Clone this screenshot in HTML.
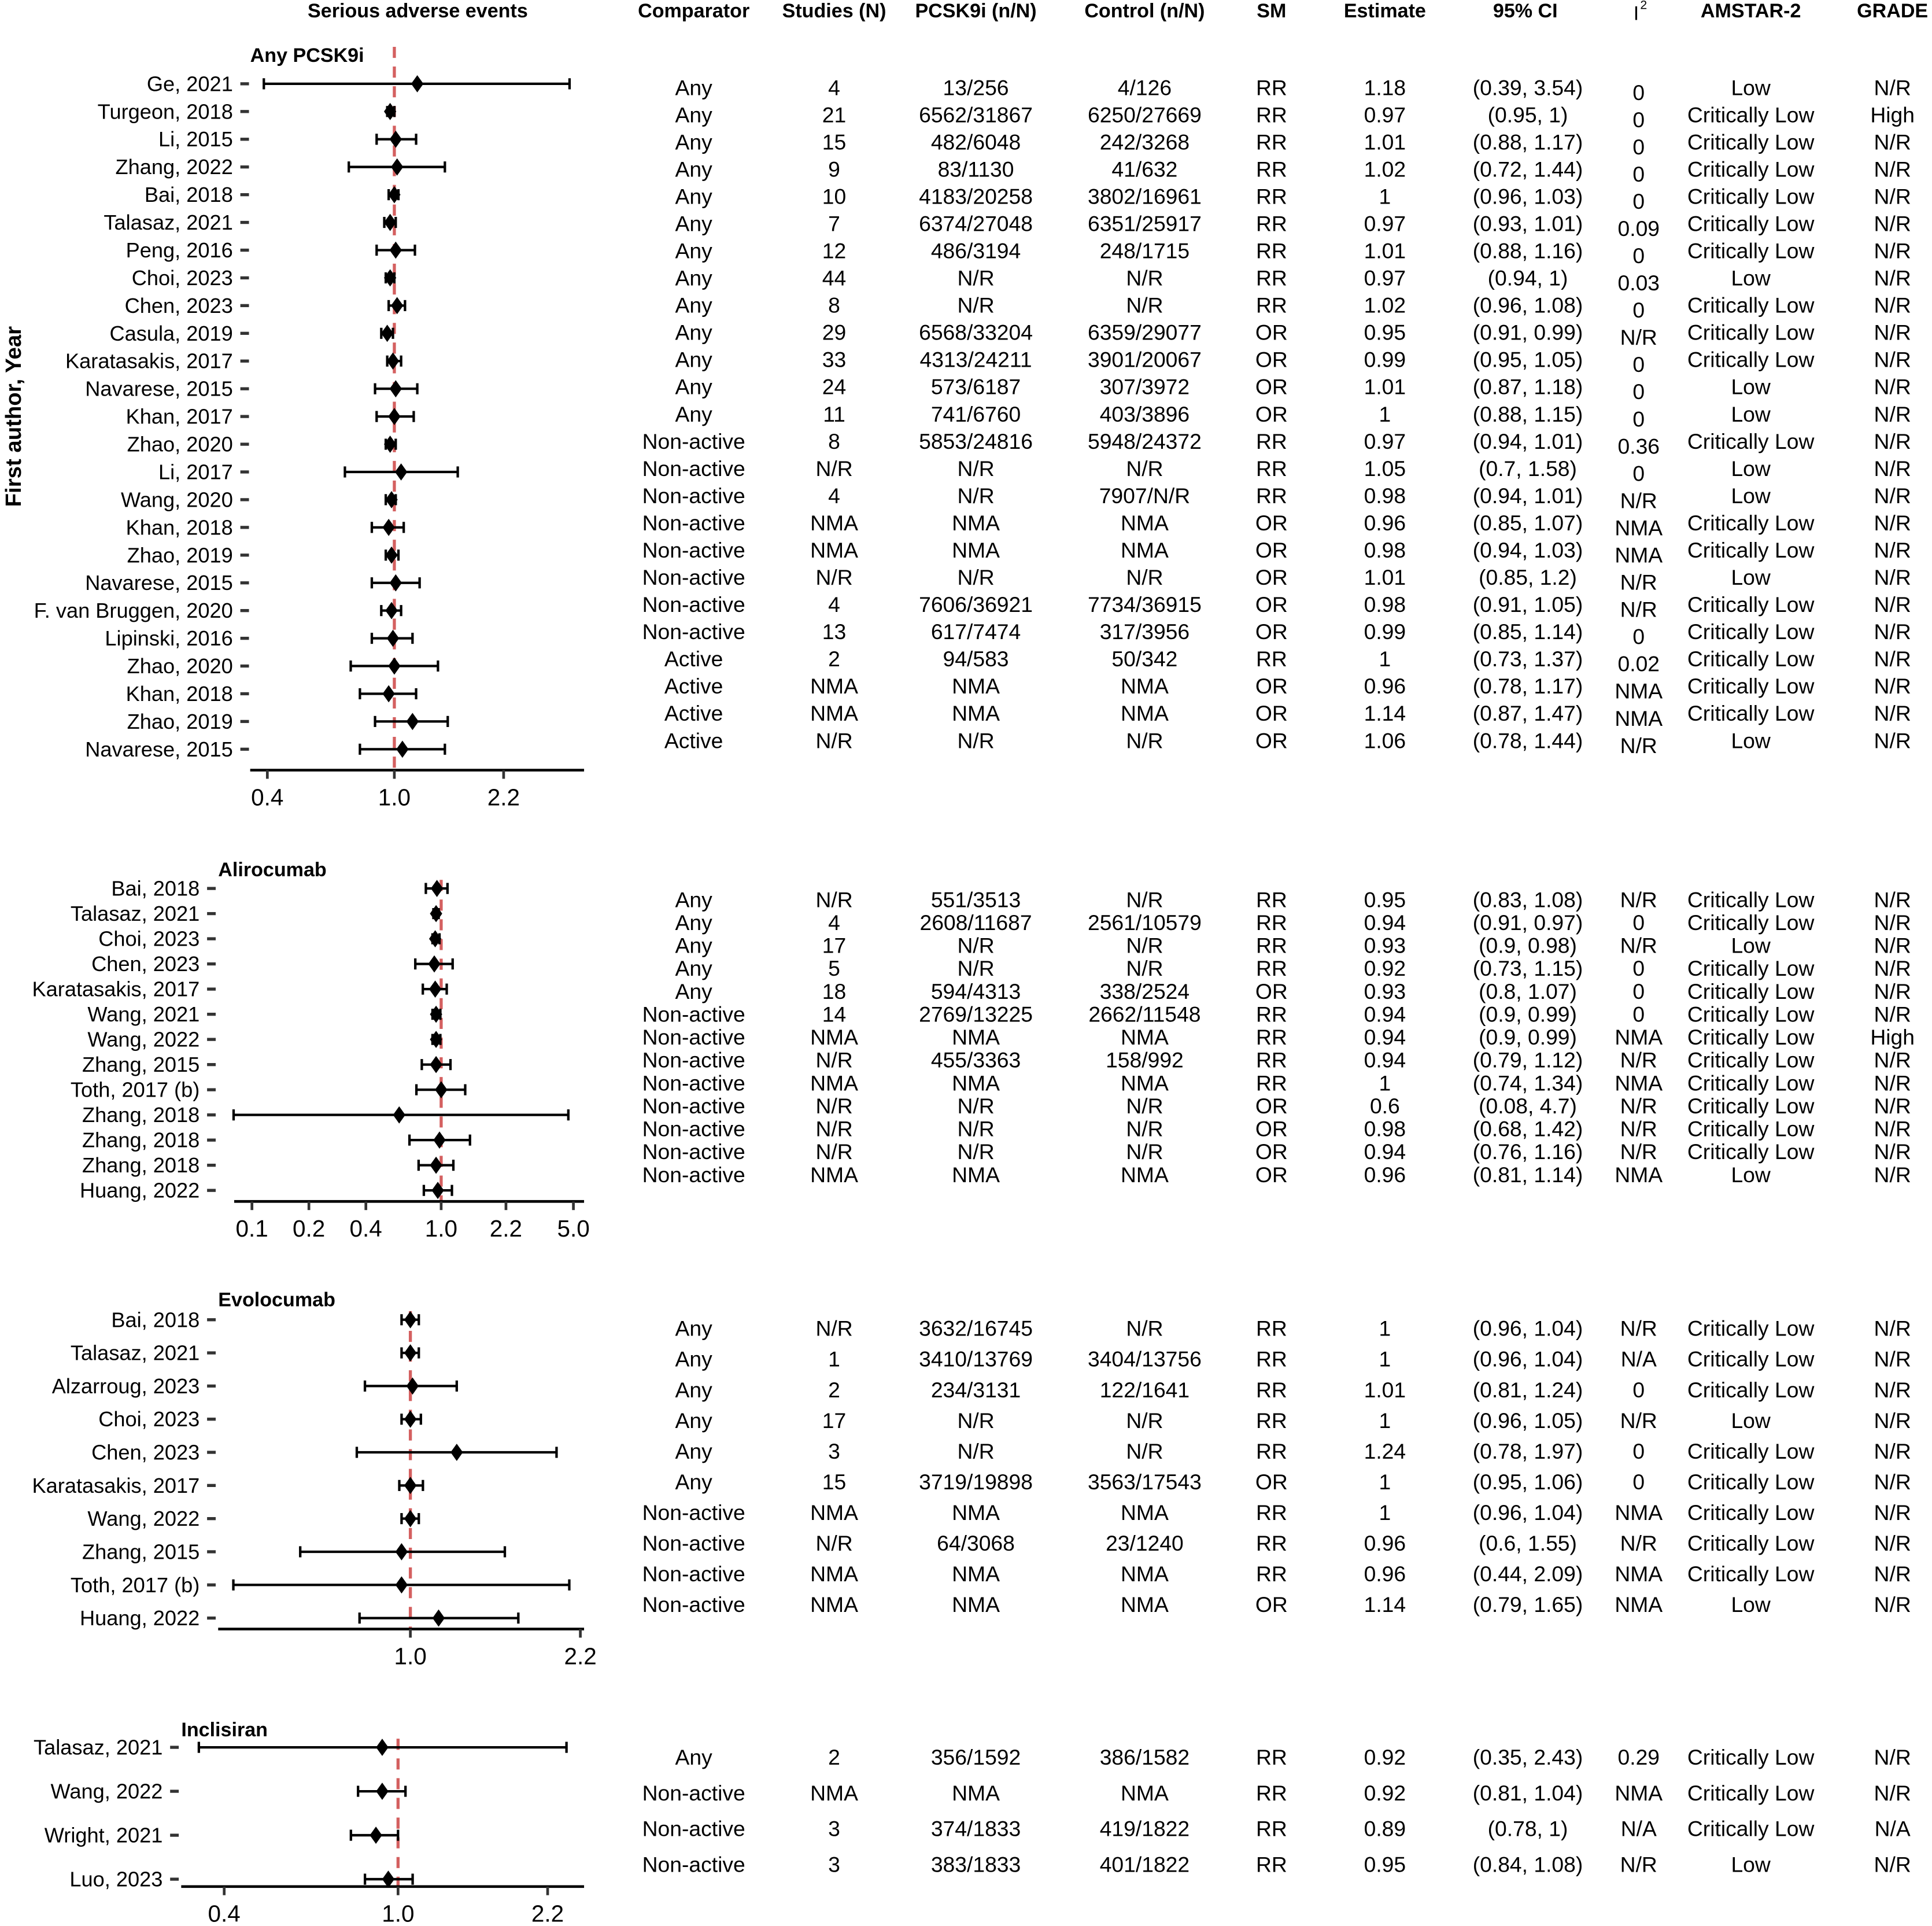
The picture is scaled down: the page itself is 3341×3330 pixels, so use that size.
<!DOCTYPE html>
<html><head><meta charset="utf-8"><style>
html,body{margin:0;padding:0;background:#fff;}
svg{display:block;}
text{font-family:"Liberation Sans",Arial,sans-serif;}
</style></head><body>
<svg id="chart" xmlns="http://www.w3.org/2000/svg" width="3341" height="3330" viewBox="0 0 1568 1563">
<rect width="1568" height="1563" fill="#fff"/>
<g id="g"></g>
</svg>
<script>
// ---- data ----
const p1Labels=["Ge, 2021","Turgeon, 2018","Li, 2015","Zhang, 2022","Bai, 2018","Talasaz, 2021","Peng, 2016","Choi, 2023","Chen, 2023","Casula, 2019","Karatasakis, 2017","Navarese, 2015","Khan, 2017","Zhao, 2020","Li, 2017","Wang, 2020","Khan, 2018","Zhao, 2019","Navarese, 2015","F. van Bruggen, 2020","Lipinski, 2016","Zhao, 2020","Khan, 2018","Zhao, 2019","Navarese, 2015"];
const p1Est=[1.18,0.97,1.01,1.02,1,0.97,1.01,0.97,1.02,0.95,0.99,1.01,1,0.97,1.05,0.98,0.96,0.98,1.01,0.98,0.99,1,0.96,1.14,1.06];
const p1Lo=[0.39,0.95,0.88,0.72,0.96,0.93,0.88,0.94,0.96,0.91,0.95,0.87,0.88,0.94,0.7,0.94,0.85,0.94,0.85,0.91,0.85,0.73,0.78,0.87,0.78];
const p1Hi=[3.54,1,1.17,1.44,1.03,1.01,1.16,1,1.08,0.99,1.05,1.18,1.15,1.01,1.58,1.01,1.07,1.03,1.2,1.05,1.14,1.37,1.17,1.47,1.44];
const p1Comp=["Any","Any","Any","Any","Any","Any","Any","Any","Any","Any","Any","Any","Any","Non-active","Non-active","Non-active","Non-active","Non-active","Non-active","Non-active","Non-active","Active","Active","Active","Active"];
const p1N=["4","21","15","9","10","7","12","44","8","29","33","24","11","8","N/R","4","NMA","NMA","N/R","4","13","2","NMA","NMA","N/R"];
const p1P=["13/256","6562/31867","482/6048","83/1130","4183/20258","6374/27048","486/3194","N/R","N/R","6568/33204","4313/24211","573/6187","741/6760","5853/24816","N/R","N/R","NMA","NMA","N/R","7606/36921","617/7474","94/583","NMA","NMA","N/R"];
const p1C=["4/126","6250/27669","242/3268","41/632","3802/16961","6351/25917","248/1715","N/R","N/R","6359/29077","3901/20067","307/3972","403/3896","5948/24372","N/R","7907/N/R","NMA","NMA","N/R","7734/36915","317/3956","50/342","NMA","NMA","N/R"];
const p1SM=["RR","RR","RR","RR","RR","RR","RR","RR","RR","OR","OR","OR","OR","RR","RR","RR","OR","OR","OR","OR","OR","RR","OR","OR","OR"];
const p1EstTxt=["1.18","0.97","1.01","1.02","1","0.97","1.01","0.97","1.02","0.95","0.99","1.01","1","0.97","1.05","0.98","0.96","0.98","1.01","0.98","0.99","1","0.96","1.14","1.06"];
const p1CI=["(0.39, 3.54)","(0.95, 1)","(0.88, 1.17)","(0.72, 1.44)","(0.96, 1.03)","(0.93, 1.01)","(0.88, 1.16)","(0.94, 1)","(0.96, 1.08)","(0.91, 0.99)","(0.95, 1.05)","(0.87, 1.18)","(0.88, 1.15)","(0.94, 1.01)","(0.7, 1.58)","(0.94, 1.01)","(0.85, 1.07)","(0.94, 1.03)","(0.85, 1.2)","(0.91, 1.05)","(0.85, 1.14)","(0.73, 1.37)","(0.78, 1.17)","(0.87, 1.47)","(0.78, 1.44)"];
const p1I2=["0","0","0","0","0","0.09","0","0.03","0","N/R","0","0","0","0.36","0","N/R","NMA","NMA","N/R","N/R","0","0.02","NMA","NMA","N/R"];
const p1Am=["Low","Critically Low","Critically Low","Critically Low","Critically Low","Critically Low","Critically Low","Low","Critically Low","Critically Low","Critically Low","Low","Low","Critically Low","Low","Low","Critically Low","Critically Low","Low","Critically Low","Critically Low","Critically Low","Critically Low","Critically Low","Low"];
const p1Gr=["N/R","High","N/R","N/R","N/R","N/R","N/R","N/R","N/R","N/R","N/R","N/R","N/R","N/R","N/R","N/R","N/R","N/R","N/R","N/R","N/R","N/R","N/R","N/R","N/R"];

const p2Labels=["Bai, 2018","Talasaz, 2021","Choi, 2023","Chen, 2023","Karatasakis, 2017","Wang, 2021","Wang, 2022","Zhang, 2015","Toth, 2017 (b)","Zhang, 2018","Zhang, 2018","Zhang, 2018","Huang, 2022"];
const p2Est=[0.95,0.94,0.93,0.92,0.93,0.94,0.94,0.94,1,0.6,0.98,0.94,0.96];
const p2Lo=[0.83,0.91,0.9,0.73,0.8,0.9,0.9,0.79,0.74,0.08,0.68,0.76,0.81];
const p2Hi=[1.08,0.97,0.98,1.15,1.07,0.99,0.99,1.12,1.34,4.7,1.42,1.16,1.14];
const p2Comp=["Any","Any","Any","Any","Any","Non-active","Non-active","Non-active","Non-active","Non-active","Non-active","Non-active","Non-active"];
const p2N=["N/R","4","17","5","18","14","NMA","N/R","NMA","N/R","N/R","N/R","NMA"];
const p2P=["551/3513","2608/11687","N/R","N/R","594/4313","2769/13225","NMA","455/3363","NMA","N/R","N/R","N/R","NMA"];
const p2C=["N/R","2561/10579","N/R","N/R","338/2524","2662/11548","NMA","158/992","NMA","N/R","N/R","N/R","NMA"];
const p2SM=["RR","RR","RR","RR","OR","RR","RR","RR","RR","OR","OR","OR","OR"];
const p2EstTxt=["0.95","0.94","0.93","0.92","0.93","0.94","0.94","0.94","1","0.6","0.98","0.94","0.96"];
const p2CI=["(0.83, 1.08)","(0.91, 0.97)","(0.9, 0.98)","(0.73, 1.15)","(0.8, 1.07)","(0.9, 0.99)","(0.9, 0.99)","(0.79, 1.12)","(0.74, 1.34)","(0.08, 4.7)","(0.68, 1.42)","(0.76, 1.16)","(0.81, 1.14)"];
const p2I2=["N/R","0","N/R","0","0","0","NMA","N/R","NMA","N/R","N/R","N/R","NMA"];
const p2Am=["Critically Low","Critically Low","Low","Critically Low","Critically Low","Critically Low","Critically Low","Critically Low","Critically Low","Critically Low","Critically Low","Critically Low","Low"];
const p2Gr=["N/R","N/R","N/R","N/R","N/R","N/R","High","N/R","N/R","N/R","N/R","N/R","N/R"];

const p3Labels=["Bai, 2018","Talasaz, 2021","Alzarroug, 2023","Choi, 2023","Chen, 2023","Karatasakis, 2017","Wang, 2022","Zhang, 2015","Toth, 2017 (b)","Huang, 2022"];
const p3Est=[1,1,1.01,1,1.24,1,1,0.96,0.96,1.14];
const p3Lo=[0.96,0.96,0.81,0.96,0.78,0.95,0.96,0.6,0.44,0.79];
const p3Hi=[1.04,1.04,1.24,1.05,1.97,1.06,1.04,1.55,2.09,1.65];
const p3Comp=["Any","Any","Any","Any","Any","Any","Non-active","Non-active","Non-active","Non-active"];
const p3N=["N/R","1","2","17","3","15","NMA","N/R","NMA","NMA"];
const p3P=["3632/16745","3410/13769","234/3131","N/R","N/R","3719/19898","NMA","64/3068","NMA","NMA"];
const p3C=["N/R","3404/13756","122/1641","N/R","N/R","3563/17543","NMA","23/1240","NMA","NMA"];
const p3SM=["RR","RR","RR","RR","RR","OR","RR","RR","RR","OR"];
const p3EstTxt=["1","1","1.01","1","1.24","1","1","0.96","0.96","1.14"];
const p3CI=["(0.96, 1.04)","(0.96, 1.04)","(0.81, 1.24)","(0.96, 1.05)","(0.78, 1.97)","(0.95, 1.06)","(0.96, 1.04)","(0.6, 1.55)","(0.44, 2.09)","(0.79, 1.65)"];
const p3I2=["N/R","N/A","0","N/R","0","0","NMA","N/R","NMA","NMA"];
const p3Am=["Critically Low","Critically Low","Critically Low","Low","Critically Low","Critically Low","Critically Low","Critically Low","Critically Low","Low"];
const p3Gr=["N/R","N/R","N/R","N/R","N/R","N/R","N/R","N/R","N/R","N/R"];

const p4Labels=["Talasaz, 2021","Wang, 2022","Wright, 2021","Luo, 2023"];
const p4Est=[0.92,0.92,0.89,0.95];
const p4Lo=[0.35,0.81,0.78,0.84];
const p4Hi=[2.43,1.04,1,1.08];
const p4Comp=["Any","Non-active","Non-active","Non-active"];
const p4N=["2","NMA","3","3"];
const p4P=["356/1592","NMA","374/1833","383/1833"];
const p4C=["386/1582","NMA","419/1822","401/1822"];
const p4SM=["RR","RR","RR","RR"];
const p4EstTxt=["0.92","0.92","0.89","0.95"];
const p4CI=["(0.35, 2.43)","(0.81, 1.04)","(0.78, 1)","(0.84, 1.08)"];
const p4I2=["0.29","NMA","N/A","N/R"];
const p4Am=["Critically Low","Critically Low","Critically Low","Low"];
const p4Gr=["N/R","N/R","N/A","N/R"];

const p1Ticks=[0.4,1.0,2.2];
const p2Ticks=[0.1,0.2,0.4,1.0,2.2,5.0];
const p3Ticks=[1.0,2.2];
const p4Ticks=[0.4,1.0,2.2];

// ---- drawing ----
const NS="http://www.w3.org/2000/svg";
const G=document.getElementById('g');
function mk(tag,attrs,parent){const e=document.createElementNS(NS,tag);for(const k in attrs)e.setAttribute(k,attrs[k]);(parent||G).appendChild(e);return e;}
function txt(s,x,y,size,anchor,weight,parent){const t=mk('text',{x:x,y:y,'font-size':size,'text-anchor':anchor||'middle','dominant-baseline':'central','font-weight':weight||'normal',fill:'#000'},parent);t.textContent=s;return t;}

// headers
const hdr=mk('g',{});


txt("Serious adverse events",339,9,16,'middle','bold',hdr);
const headCols=[["Comparator",563],["Studies (N)",677],["PCSK9i (n/N)",792],["Control (n/N)",929],["SM",1032],["Estimate",1124],["95% CI",1238],["AMSTAR-2",1421],["GRADE",1536]];
headCols.forEach(h=>txt(h[0],h[1],9,16,'middle','bold',hdr));
const i2h=txt("I",1328,11,16,'middle','normal',hdr);
const sup=txt("2",1334,4,10,'middle','normal',hdr);

const yt=txt("First author, Year",0,0,18,'middle','bold');
yt.setAttribute('transform','translate(11,338) rotate(-90)');



const colX=[563,677,792,929,1032,1124,1240,1330,1421,1536];

function panel(o){
  const pg=mk('g',{});
  
  
  const sx=v=>o.cx+o.k*Math.log(v);
  const t=txt(o.title,o.titleX,o.titleY,16,'start','bold',pg);
  
  
  const rl=mk('line',{x1:sx(1),x2:sx(1),y1:o.refTop,y2:o.axisY,stroke:'#d46060','stroke-width':2.5,'stroke-dasharray':'9,7'},pg);
  
  
  o.labels.forEach((lab,i)=>{
    const y=o.rowY0+i*o.rowStep;
    const l=txt(lab,o.labX,y,17,'end','normal',pg);
    
    
    mk('line',{x1:o.labX+6,x2:o.labX+13,y1:y,y2:y,stroke:'#333','stroke-width':2.5},pg);
    const ci=mk('g',{},pg);
    
    
    const a=sx(o.lo[i]),b=sx(o.hi[i]);
    mk('line',{x1:a,x2:b,y1:y,y2:y,stroke:'#000','stroke-width':2},ci);
    mk('line',{x1:a,x2:a,y1:y-4.5,y2:y+4.5,stroke:'#000','stroke-width':2},ci);
    mk('line',{x1:b,x2:b,y1:y-4.5,y2:y+4.5,stroke:'#000','stroke-width':2},ci);
    const ex=sx(o.est[i]);
    const d=mk('polygon',{points:`${ex},${y-7} ${ex+5},${y} ${ex},${y+7} ${ex-5},${y}`,fill:'#000'},pg);
    
    
    const ty=o.tY0+i*o.tStep;
    const cols=[o.comp,o.n,o.p,o.c,o.sm,o.estTxt,o.ci,o.i2,o.am,o.gr];
    const row=mk('g',{},pg);
    
    
    cols.forEach((arr,j)=>{txt(arr[i],colX[j],ty+(j===7?o.i2off:0),17.5,'middle','normal',row);});
  });
  const ax=mk('g',{},pg);
  
  
  mk('line',{x1:o.axX1,x2:474,y1:o.axisY,y2:o.axisY,stroke:'#000','stroke-width':2.2},ax);
  o.ticks.forEach(tv=>{
    const x=sx(tv);
    mk('line',{x1:x,x2:x,y1:o.axisY,y2:o.axisY+7,stroke:'#333','stroke-width':2.2},ax);
    txt(tv.toFixed(1),x,o.axisY+22,19,'middle','normal',ax);
  });
}
panel({name:'panel-any-pcsk9i',title:'Any PCSK9i',titleX:203,titleY:45,cx:320,k:112.5,refTop:38,axisY:625,axX1:203,labX:189,rowY0:68,rowStep:22.5,tY0:71,tStep:22.08,i2off:4,labels:p1Labels,est:p1Est,lo:p1Lo,hi:p1Hi,comp:p1Comp,n:p1N,p:p1P,c:p1C,sm:p1SM,estTxt:p1EstTxt,ci:p1CI,i2:p1I2,am:p1Am,gr:p1Gr,ticks:p1Ticks});
panel({name:'panel-alirocumab',title:'Alirocumab',titleX:177,titleY:706,cx:358,k:66.7,refTop:714,axisY:975,axX1:190,labX:162,rowY0:721,rowStep:20.42,tY0:730,tStep:18.6,i2off:0,labels:p2Labels,est:p2Est,lo:p2Lo,hi:p2Hi,comp:p2Comp,n:p2N,p:p2P,c:p2C,sm:p2SM,estTxt:p2EstTxt,ci:p2CI,i2:p2I2,am:p2Am,gr:p2Gr,ticks:p2Ticks});
panel({name:'panel-evolocumab',title:'Evolocumab',titleX:177,titleY:1055,cx:333,k:175,refTop:1064,axisY:1322,axX1:177,labX:162,rowY0:1071,rowStep:26.9,tY0:1078,tStep:24.9,i2off:0,labels:p3Labels,est:p3Est,lo:p3Lo,hi:p3Hi,comp:p3Comp,n:p3N,p:p3P,c:p3C,sm:p3SM,estTxt:p3EstTxt,ci:p3CI,i2:p3I2,am:p3Am,gr:p3Gr,ticks:p3Ticks});
panel({name:'panel-inclisiran',title:'Inclisiran',titleX:147,titleY:1404,cx:323,k:154,refTop:1411,axisY:1531,axX1:147,labX:132,rowY0:1418,rowStep:35.67,tY0:1426,tStep:29,i2off:0,labels:p4Labels,est:p4Est,lo:p4Lo,hi:p4Hi,comp:p4Comp,n:p4N,p:p4P,c:p4C,sm:p4SM,estTxt:p4EstTxt,ci:p4CI,i2:p4I2,am:p4Am,gr:p4Gr,ticks:p4Ticks});
</script>
</body></html>
